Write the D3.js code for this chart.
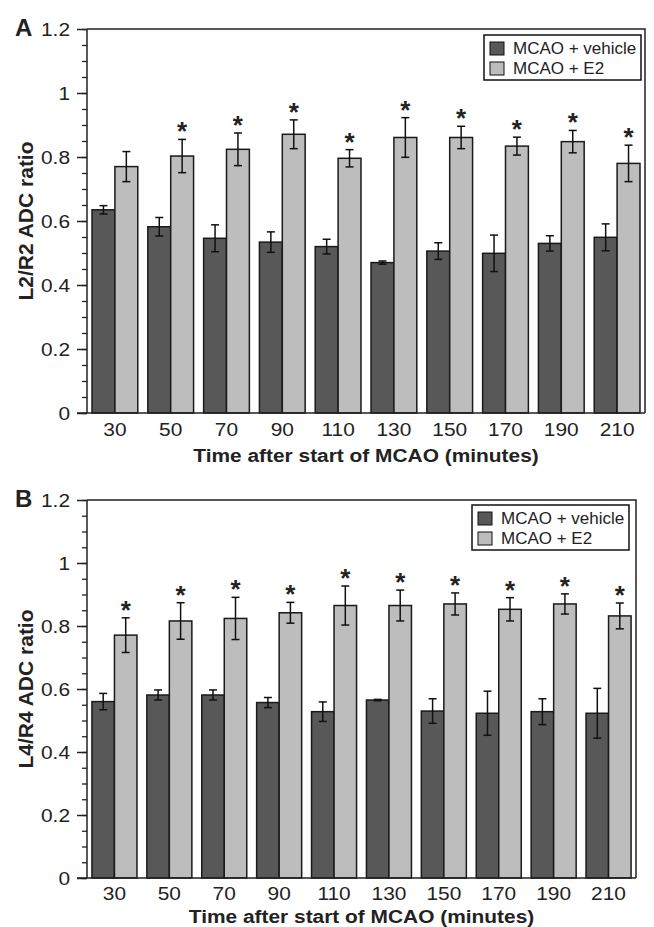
<!DOCTYPE html>
<html>
<head>
<meta charset="utf-8">
<script src="https://cdn.jsdelivr.net/npm/d3@7"></script>
<style>
  body { margin: 0; background: #fff; }
  svg text { font-family: "Liberation Sans", Arial, sans-serif; fill: #222; }
</style>
</head>
<body>
<div class="chart"></div>
<script>
(function(){
  // data
  var times      = ["30","50","70","90","110","130","150","170","190","210"];
  var seriesNames = ["MCAO + vehicle", "MCAO + E2"];

  var vehicleA    = [0.635, 0.582, 0.546, 0.534, 0.520, 0.470, 0.506, 0.499, 0.530, 0.549];
  var vehicleErrA = [0.013, 0.029, 0.042, 0.032, 0.023, 0.005, 0.026, 0.057, 0.024, 0.042];
  var e2A         = [0.770, 0.803, 0.824, 0.871, 0.796, 0.861, 0.861, 0.834, 0.848, 0.780];
  var e2ErrA      = [0.047, 0.052, 0.051, 0.045, 0.027, 0.062, 0.035, 0.028, 0.035, 0.057];
  var starsA      = [false, true, true, true, true, true, true, true, true, true];

  var vehicleB    = [0.560, 0.581, 0.581, 0.557, 0.528, 0.565, 0.530, 0.523, 0.528, 0.523];
  var vehicleErrB = [0.026, 0.016, 0.016, 0.016, 0.031, 0.002, 0.039, 0.070, 0.041, 0.079];
  var e2B         = [0.771, 0.816, 0.824, 0.842, 0.865, 0.865, 0.870, 0.853, 0.870, 0.832];
  var e2ErrB      = [0.055, 0.058, 0.067, 0.033, 0.062, 0.049, 0.035, 0.037, 0.032, 0.041];
  var starsB      = [true, true, true, true, true, true, true, true, true, true];

  var majorTicks = [0, 0.2, 0.4, 0.6, 0.8, 1, 1.2];
  var minorTicks = d3.range(0, 1.2001, 0.05);

  var darkFill = "#585858", lightFill = "#bdbdbd";
  var stretch = 1.1; // the figure's lettering is a bit wider than tall

  var width = 654, height = 927;
  var svg = d3.select(".chart").append("svg")
      .attr("width", width).attr("height", height);

  this.drawPanel = function(opt){
    var g = svg.append("g");
    var x = d3.scaleBand().domain(times).range([opt.left, opt.right])
        .paddingInner(0.18).paddingOuter(0.09);
    var sub = d3.scaleBand().domain([0,1]).range([0, x.bandwidth()]);
    var y = d3.scaleLinear().domain([0, 1.2]).range([opt.bottom, opt.top]);

    // frame (top + right)
    g.append("path")
      .attr("d", "M" + opt.left + "," + opt.top + "H" + opt.right + "V" + opt.bottom)
      .attr("fill", "none").attr("stroke", "#222").attr("stroke-width", 1.5);

    // bars
    var rows = times.map(function(t, i){
      return {t: t, vals: [opt.veh[i], opt.e2[i]], errs: [opt.vehErr[i], opt.e2Err[i]], star: opt.stars[i]};
    });
    var grp = g.selectAll(".grp").data(rows).enter().append("g")
      .attr("transform", function(d){ return "translate(" + x(d.t) + ",0)"; });
    var bars = grp.selectAll("rect").data(function(d){
      return d.vals.map(function(v, k){ return {k: k, v: v, e: d.errs[k]}; });
    }).enter();
    bars.append("rect")
      .attr("x", function(d){ return sub(d.k); })
      .attr("y", function(d){ return y(d.v); })
      .attr("width", sub.bandwidth())
      .attr("height", function(d){ return y(0) - y(d.v); })
      .attr("fill", function(d){ return d.k === 0 ? darkFill : lightFill; })
      .attr("stroke", "#1a1a1a").attr("stroke-width", 1.5);

    // error bars
    var eb = grp.selectAll(".eb").data(function(d){
      return d.vals.map(function(v, k){ return {k: k, v: v, e: d.errs[k]}; });
    }).enter().append("g").attr("class", "eb");
    eb.append("line")
      .attr("x1", function(d){ return sub(d.k) + sub.bandwidth()/2; })
      .attr("x2", function(d){ return sub(d.k) + sub.bandwidth()/2; })
      .attr("y1", function(d){ return y(d.v - d.e); })
      .attr("y2", function(d){ return y(d.v + d.e); });
    [1, -1].forEach(function(s){
      eb.append("line")
        .attr("x1", function(d){ return sub(d.k) + sub.bandwidth()/2 - 4; })
        .attr("x2", function(d){ return sub(d.k) + sub.bandwidth()/2 + 4; })
        .attr("y1", function(d){ return y(d.v + s*d.e); })
        .attr("y2", function(d){ return y(d.v + s*d.e); });
    });
    eb.selectAll("line").attr("stroke", "#111").attr("stroke-width", 1.5);

    // asterisks
    grp.filter(function(d){ return d.star; }).append("text")
      .attr("x", sub(1) + sub.bandwidth()/2)
      .attr("y", function(d){ return y(d.vals[1] + d.errs[1]) + 1; })
      .attr("text-anchor", "middle")
      .style("font-size", "26px").style("font-weight", "bold")
      .text("*");

    // y axis
    var yMinor = g.append("g").attr("transform", "translate(" + opt.left + ",0)")
      .call(d3.axisLeft(y).tickValues(minorTicks).tickSize(5).tickFormat(""));
    yMinor.select(".domain").remove();
    yMinor.selectAll("line").attr("stroke", "#222").attr("stroke-width", 1.3);

    var yAx = g.append("g").attr("transform", "translate(" + opt.left + ",0)")
      .call(d3.axisLeft(y).tickValues(majorTicks).tickSize(10).tickPadding(7)
        .tickFormat(d3.format("~g")));
    yAx.select(".domain").attr("stroke", "#222").attr("stroke-width", 1.5)
      .attr("d", "M0," + opt.top + "V" + opt.bottom);
    yAx.selectAll("line").attr("stroke", "#222").attr("stroke-width", 1.5);
    yAx.selectAll("text").style("font-size", "19px").attr("fill", "#333")
      .attr("x", -17 / stretch).attr("transform", "scale(" + stretch + ",1)");

    // x axis
    var xAx = g.append("g").attr("transform", "translate(0," + opt.bottom + ")")
      .call(d3.axisBottom(x).tickSize(0).tickPadding(opt.tickPad));
    xAx.select(".domain").attr("stroke", "#222").attr("stroke-width", 1.5)
      .attr("d", "M" + (opt.left - 10) + ",0H" + opt.right);
    xAx.selectAll("text").style("font-size", "19px").attr("fill", "#333")
      .attr("transform", "scale(" + stretch + ",1)");

    // titles
    g.append("text")
      .attr("transform", "translate(" + (opt.left + opt.right)/2 + "," + opt.titleY + ") scale(1.13,1)")
      .attr("text-anchor", "middle")
      .style("font-size", "18.5px").style("font-weight", "bold")
      .text("Time after start of MCAO (minutes)");
    g.append("text")
      .attr("transform", "translate(33," + (opt.top + opt.bottom)/2 + ") rotate(-90)")
      .attr("text-anchor", "middle")
      .style("font-size", "21px").style("font-weight", "bold")
      .text(opt.ylabel);
    g.append("text")
      .attr("x", 15).attr("y", opt.top + 7)
      .style("font-size", "24px").style("font-weight", "bold")
      .text(opt.letter);

    // legend
    var lg = g.append("g").attr("transform", "translate(" + opt.legX + "," + opt.legY + ")");
    lg.append("rect").attr("width", 157).attr("height", 45)
      .attr("fill", "#fff").attr("stroke", "#111").attr("stroke-width", 1.5);
    seriesNames.forEach(function(n, k){
      lg.append("rect").attr("x", 6).attr("y", 7 + k*20).attr("width", 14).attr("height", 13)
        .attr("fill", k === 0 ? darkFill : lightFill).attr("stroke", "#111").attr("stroke-width", 1);
      lg.append("text").attr("x", 29).attr("y", 19 + k*20)
        .style("font-size", "17px").text(n);
    });
  };

  this.drawPanel({letter: "A", ylabel: "L2/R2 ADC ratio", left: 87, right: 645, top: 29, bottom: 413,
    tickPad: 10, titleY: 462,
    veh: vehicleA, vehErr: vehicleErrA, e2: e2A, e2Err: e2ErrA, stars: starsA, legX: 484, legY: 35});
  this.drawPanel({letter: "B", ylabel: "L4/R4 ADC ratio", left: 87, right: 636, top: 500, bottom: 878,
    tickPad: 8.5, titleY: 923,
    veh: vehicleB, vehErr: vehicleErrB, e2: e2B, e2Err: e2ErrB, stars: starsB, legX: 472, legY: 505});
})()
</script>
</body>
</html>
